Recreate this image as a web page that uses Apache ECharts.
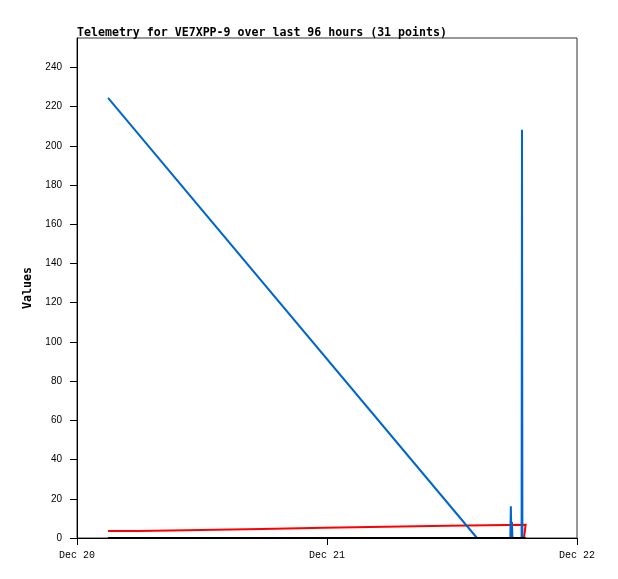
<!DOCTYPE html>
<html>
<head>
<meta charset="utf-8">
<script src="https://cdn.jsdelivr.net/npm/echarts@6/dist/echarts.min.js"></script>
<style>
  html, body { margin: 0; padding: 0; background: #fff; }
</style>
</head>
<body>
<div id="chart" style="width: 618px; height: 579px"></div>
<script>
// hours since Dec 20 00:00
var xLabels = ['Dec 20', 'Dec 21', 'Dec 22'];
var yTicks = [0, 20, 40, 60, 80, 100, 120, 140, 160, 180, 200, 220, 240];

var blueTimes = [2.98, 38.4, 41.60, 41.65, 41.70, 41.76, 41.80, 42.68, 42.72, 42.76, 43.07];
var blueValues = [224.5, 0, 0, 16.2, 0, 8.2, 0, 0, 208.2, 0, 0];

var redTimes = [2.98, 5.95, 5.95, 11.9, 11.9, 17.76, 17.76, 23.76, 23.76, 29.6, 29.6, 35.57, 35.57, 43.07, 42.91, 42.91];
var redValues = [3.6, 3.6, 4.1, 4.1, 4.6, 4.6, 5.2, 5.2, 5.7, 5.7, 6.2, 6.2, 6.7, 6.7, 6.7, 0];

var blackTimes = [2.98, 43.07];
var blackValues = [0, 0];

function pairs(t, v) {
    return t.map(function (x, i) { return [x, v[i]]; });
}

var myChart = echarts.init(document.getElementById('chart'));
var option = {
    animation: false,
    backgroundColor: '#fff',
    title: {
        text: 'Telemetry for VE7XPP-9 over last 96 hours (31 points)',
        left: 77,
        top: 27,
        padding: 0,
        textStyle: {
            fontFamily: 'DejaVu Sans Mono',
            fontSize: 11.6,
            fontWeight: 'bold',
            color: '#000',
        },
    },
    grid: {
        left: 77,
        right: 41,
        top: 38,
        bottom: 41,
        show: true,
        borderColor: '#333',
        borderWidth: 1,
    },
    xAxis: {
        type: 'value',
        min: 0,
        max: 48,
        interval: 24,
        axisLine: { lineStyle: { color: '#000', width: 1 } },
        axisTick: { length: 7, lineStyle: { color: '#000' } },
        splitLine: { show: false },
        axisLabel: {
            margin: 12,
            fontFamily: 'Liberation Mono',
            fontSize: 10,
            color: '#000',
            formatter: function (v) { return xLabels[Math.round(v / 24)]; },
        },
    },
    yAxis: {
        type: 'value',
        min: 0,
        max: 255,
        name: 'Values',
        nameLocation: 'middle',
        nameGap: 36,
        nameTextStyle: {
            fontFamily: 'DejaVu Sans Mono',
            fontSize: 11.6,
            fontWeight: 'bold',
            color: '#000',
        },
        axisLine: { show: true, lineStyle: { color: '#000', width: 1 } },
        axisTick: { show: true, length: 7, customValues: yTicks, lineStyle: { color: '#000' } },
        splitLine: { show: false },
        axisLabel: {
            margin: 15,
            customValues: yTicks,
            fontFamily: 'Liberation Sans',
            fontSize: 10,
            color: '#000',
        },
    },
    series: [
        {
            type: 'line',
            data: pairs(redTimes, redValues),
            showSymbol: false,
            lineStyle: { color: '#ff0000', width: 2, cap: 'butt', join: 'miter' },
            itemStyle: { color: '#ff0000' },
        },
        {
            type: 'line',
            data: pairs(blueTimes, blueValues),
            showSymbol: false,
            lineStyle: { color: '#0066cc', width: 2 },
            itemStyle: { color: '#0066cc' },
        },
        {
            type: 'line',
            data: pairs(blackTimes, blackValues),
            showSymbol: false,
            lineStyle: { color: '#000', width: 2 },
            itemStyle: { color: '#000' },
        },
    ],
};
myChart.setOption(option);
</script>
</body>
</html>
